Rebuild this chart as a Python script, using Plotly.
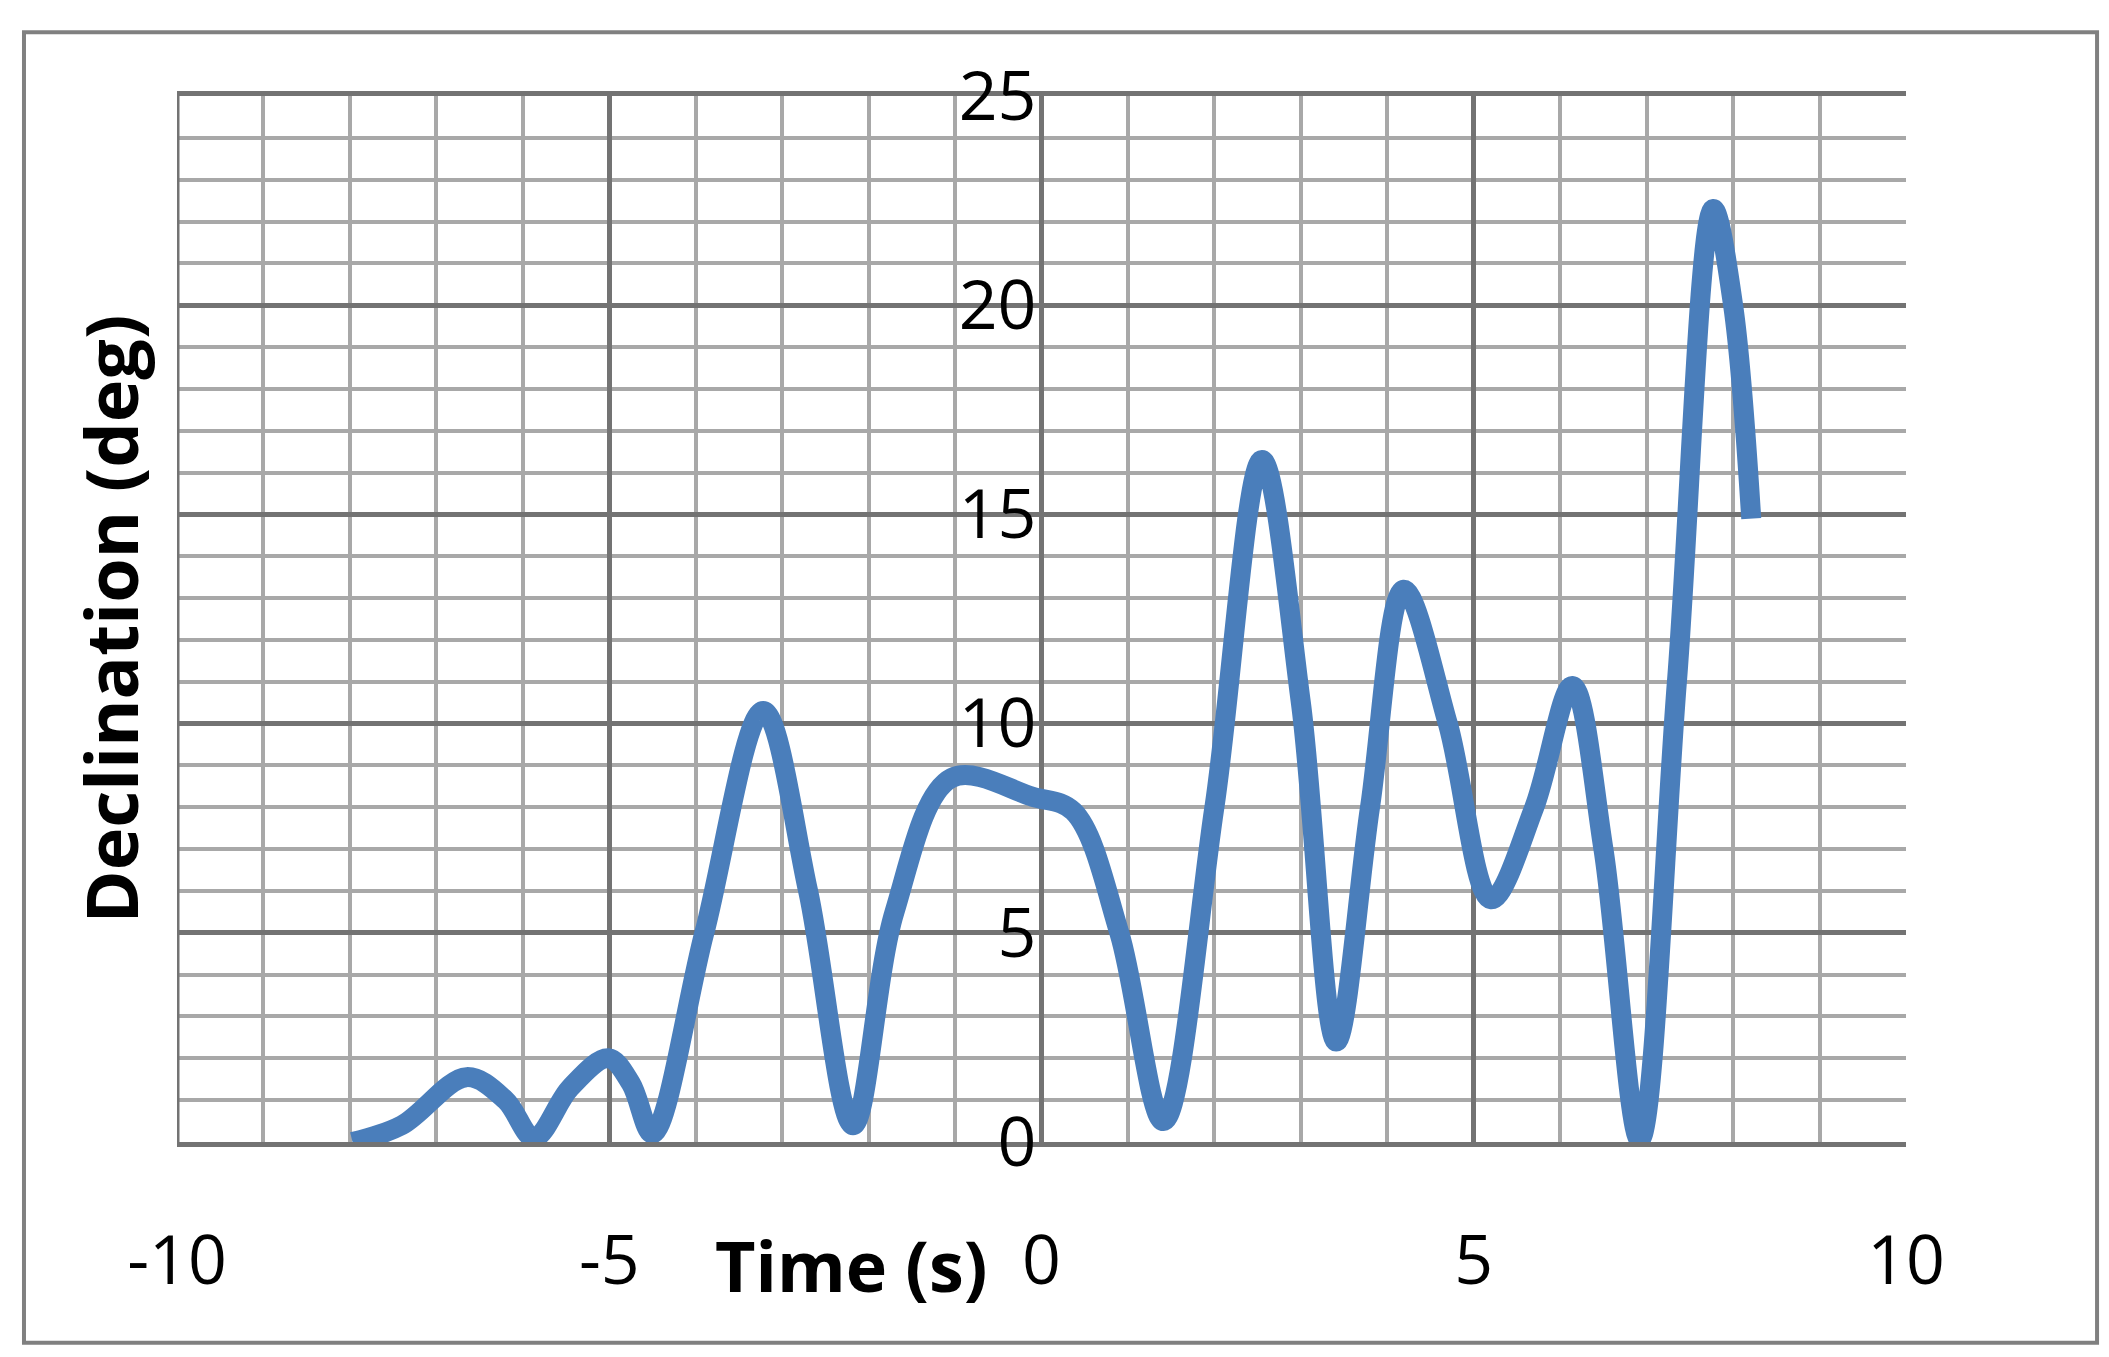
import plotly.graph_objects as go

time_s = [-7.97, -7.4, -6.65, -6.2, -5.87, -5.45, -5.01, -4.75, -4.5, -3.9, -3.22, -2.7, -2.18, -1.7, -1.04, -0.1, 0.37, 0.9, 1.41, 2.0, 2.55, 3.0, 3.41, 3.8, 4.19, 4.7, 5.2, 5.7, 6.14, 6.5, 6.92, 7.35, 7.77, 8.0, 8.21]
declination = [0.0, 0.4, 1.55, 1.0, 0.1, 1.3, 2.0, 1.4, 0.2, 5.0, 10.3, 6.0, 0.4, 5.5, 8.7, 8.25, 7.9, 5.0, 0.5, 8.0, 16.3, 10.5, 2.4, 8.0, 13.2, 10.0, 5.8, 8.0, 10.9, 7.0, 0.05, 11.0, 22.3, 20.0, 14.9]
x_ticks = [-10, -5, 0, 5, 10]
x_labels = ["-10", "-5", "0", "5", "10"]
y_ticks = [0, 5, 10, 15, 20, 25]

fig = go.Figure(go.Scatter(x=time_s, y=declination, mode="lines",
                           line=dict(color="#4A7EBB", width=20, shape="spline", smoothing=1.0)))

fig.update_layout(
    width=2109, height=1357, plot_bgcolor="white", paper_bgcolor="white",
    margin=dict(l=169, r=211, t=88, b=223), showlegend=False,
    font=dict(family="Open Sans", size=68, color="black"),
    xaxis=dict(range=[-10, 10], tickvals=x_ticks, ticktext=x_labels, showgrid=True, gridcolor="#737373", gridwidth=5,
               minor=dict(dtick=1, showgrid=True, gridcolor="#a8a8a8", gridwidth=4),
               zeroline=False, showline=True, linecolor="#737373", linewidth=5, mirror=True,
               ticklabelstandoff=55),
    yaxis=dict(range=[0, 25], tickvals=y_ticks, showgrid=True, gridcolor="#737373", gridwidth=5,
               minor=dict(dtick=1, showgrid=True, gridcolor="#a8a8a8", gridwidth=4),
               zeroline=False, showline=False, anchor="free", position=0.5, ticklabelstandoff=5),
    shapes=[dict(type="rect", xref="paper", yref="paper", x0=-0.0885, x1=1.1105, y0=-0.192, y1=1.061,
                 line=dict(color="#808080", width=4)),
            dict(type="line", xref="x", yref="paper", x0=-10, x1=-10, y0=0, y1=1, line=dict(color="#737373", width=5))],
    annotations=[
        dict(text="<b>Time (s)</b>", xref="paper", yref="paper", x=0.39, y=-0.118, showarrow=False,
             font=dict(size=70, family="Open Sans"), yanchor="middle"),
        dict(text="<b>Declination (deg)</b>", xref="paper", yref="paper", x=-0.039, y=0.5, textangle=-90,
             showarrow=False, font=dict(size=72, family="Open Sans"), xanchor="center", yanchor="middle"),
    ],
)
fig.write_html("out.html")
